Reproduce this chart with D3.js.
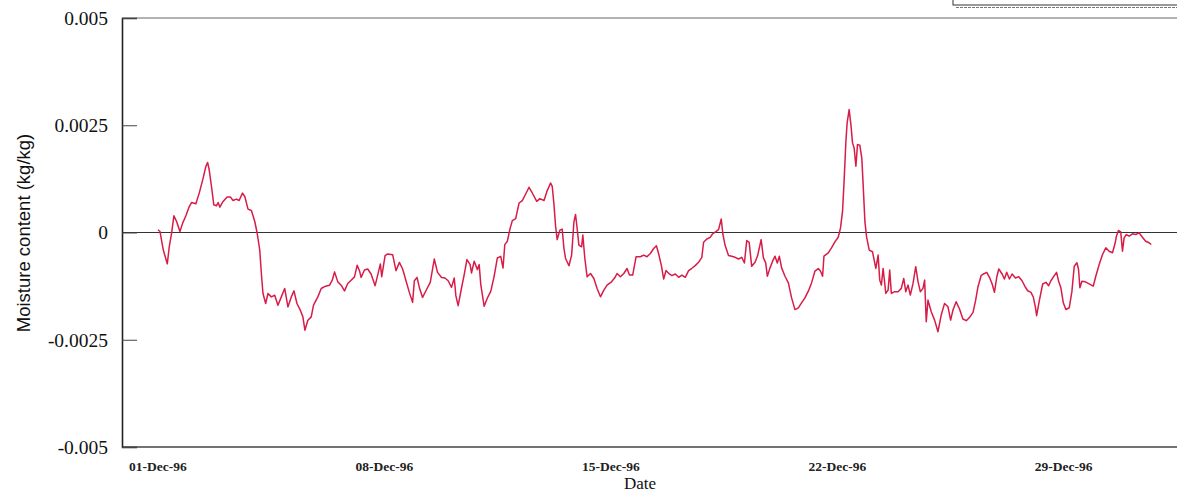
<!DOCTYPE html>
<html>
<head>
<meta charset="utf-8">
<script src="https://cdn.jsdelivr.net/npm/d3@7/dist/d3.min.js"></script>
<style>
  html, body { margin: 0; padding: 0; background: #fff; }
  svg { display: block; }
</style>
</head>
<body>
<svg id="chart" width="1177" height="494"></svg>
<script>
// ---- data: hours since 01-Dec-96 00:00, moisture content (kg/kg) ----
const hours = [
  0,1.5,3.9,6.9,8.4,10.1,11.8,13.8,16.3,18.3,20.7,23.2,24.9,28.1,30.6,33.5,35.5,36.8,38.0,39.7,
  41.4,43.4,44.6,45.9,48.3,51.3,53.8,55.7,58.2,60.2,62.7,64.4,66.8,69.3,71.8,73.5,75.5,76.7,77.9,79.9,
  81.6,84.1,86.6,89.0,91.5,94.0,96.4,98.9,100.9,103.1,105.6,107.5,109.0,111.2,113.7,115.4,118.6,121.1,124.3,127.3,
  129.3,131.0,133.4,135.9,138.4,140.8,143.3,145.8,147.8,149.5,150.7,153.2,155.6,158.1,161.1,163.5,165.0,166.0,168.5,170.4,
  174.1,176.6,179.1,181.5,184.0,186.5,188.9,190.2,192.2,193.9,196.3,198.8,202.0,205.0,207.4,210.4,212.9,215.3,217.8,219.8,
  221.0,222.7,225.2,227.2,229.2,231.6,232.6,234.6,237.0,238.3,239.5,242.0,244.4,246.9,249.4,251.8,254.3,256.0,257.3,259.2,
  261.2,262.9,265.4,267.9,270.3,272.8,275.3,277.7,281.0,283.4,286.4,288.8,291.3,292.5,293.8,295.0,296.2,298.2,299.9,301.2,
  302.4,304.9,306.9,308.6,309.8,311.0,312.3,314.3,315.2,316.7,318.4,320.9,323.4,325.8,328.3,330.8,333.2,336.5,338.9,340.6,
  343.1,345.6,348.0,349.8,352.2,354.7,357.9,360.4,362.8,365.3,367.8,369.8,371.5,373.5,375.2,376.9,379.4,381.3,383.8,386.3,
  388.7,391.2,393.7,396.1,398.6,401.1,403.5,404.8,407.2,409.7,411.4,413.9,415.9,417.9,419.1,420.8,423.3,425.7,428.2,430.7,
  433.1,435.1,436.8,438.6,440.5,443.0,444.9,447.5,449.2,450.9,452.1,454.1,456.0,457.8,459.5,461.0,462.7,465.2,467.7,470.1,
  472.6,475.1,477.5,480.0,482.5,484.9,487.4,489.9,491.6,493.1,494.1,497.3,499.7,502.2,504.7,506.4,507.9,509.1,510.4,511.3,
  512.8,514.1,515.3,516.5,517.8,519.0,520.7,522.2,523.2,524.5,525.7,527.7,530.1,532.6,534.3,535.5,536.7,538.0,540.0,541.7,
  542.9,544.1,546.6,549.1,551.5,553.3,554.8,556.5,558.2,560.2,562.2,563.9,565.6,567.6,568.8,570.0,571.3,573.7,576.2,578.7,
  581.1,583.6,586.1,588.1,589.8,592.2,594.7,597.2,599.7,602.2,604.7,606.6,608.3,610.7,612.5,614.9,616.9,618.9,620.6,622.3,
  623.8,626.3,628.0,629.7,631.7,633.7,636.2,638.6,641.1,643.6,645.3,647.7,649.5,651.0,651.9,653.9,656.4,658.8,660.8,662.5,
  665.0,666.7,668.2,669.9,671.7,673.6,676.1,678.1,679.8,681.8,683.0,684.0,685.5,688.0,690.9,693.9,695.8,698.3,700.8,703.2,
  705.7,708.2,710.2,711.1,712.6,714.3,715.6,716.8,718.5,720.5,723.0,725.4,727.9,730.4,732.8,735.3,737.0
];
const moisture = [
  0.000063,0.000023,-0.000403,-0.000730,-0.000326,-0.000014,0.000389,0.000256,0.000023,0.000219,
  0.000389,0.000606,0.000699,0.000669,0.000918,0.001268,0.001538,0.001632,0.001462,0.001072,
  0.000646,0.000622,0.000699,0.000592,0.000723,0.000825,0.000825,0.000746,0.000779,0.000746,
  0.000918,0.000839,0.000545,0.000513,0.000256,0.000000,-0.000408,-0.000956,-0.001422,-0.001655,
  -0.001422,-0.001501,-0.001462,-0.001695,-0.001501,-0.001305,-0.001734,-0.001501,-0.001361,-0.001655,
  -0.001811,-0.001967,-0.002277,-0.002044,-0.001967,-0.001695,-0.001501,-0.001305,-0.001252,-0.001228,
  -0.001112,-0.000918,-0.001151,-0.001228,-0.001361,-0.001189,-0.001112,-0.001035,-0.000762,-0.000890,
  -0.001047,-0.000874,-0.000851,-0.000967,-0.001240,-0.000930,-0.000734,-0.001030,-0.000541,-0.000501,
  -0.000517,-0.000890,-0.000697,-0.000851,-0.001124,-0.001396,-0.001629,-0.001124,-0.001047,-0.001280,
  -0.001513,-0.001357,-0.001163,-0.000618,-0.000930,-0.001047,-0.001061,-0.001124,-0.001280,-0.001061,
  -0.001473,-0.001706,-0.001294,-0.000981,-0.000632,-0.000748,-0.000944,-0.000671,-0.000865,-0.000748,
  -0.001214,-0.001720,-0.001527,-0.001371,-0.001021,-0.000594,-0.000555,-0.000828,-0.000282,-0.000205,
  0.000091,0.000277,0.000324,0.000688,0.000744,0.000897,0.001054,0.000921,0.000727,0.000790,
  0.000744,0.000977,0.001154,0.001077,0.000650,0.000145,-0.000166,0.000056,0.000079,-0.000373,
  -0.000606,-0.000776,-0.000527,0.000249,0.000420,0.000093,-0.000294,-0.000333,-0.000061,-0.000606,
  -0.001033,-0.000956,-0.001072,-0.001305,-0.001499,-0.001343,-0.001226,-0.001149,-0.001056,-0.000956,
  -0.001033,-0.000956,-0.000839,-0.000993,-0.000993,-0.000566,-0.000566,-0.000527,-0.000566,-0.000490,
  -0.000373,-0.000310,-0.000501,-0.000772,-0.001084,-0.000888,-0.000967,-0.001005,-0.000967,-0.001044,
  -0.000991,-0.001044,-0.000888,-0.000834,-0.000772,-0.000695,-0.000578,-0.000228,-0.000152,-0.000112,
  -0.000035,0.000021,0.000068,0.000315,-0.000035,-0.000305,-0.000538,-0.000555,-0.000578,-0.000618,
  -0.000578,-0.000711,-0.000189,-0.000228,-0.000788,-0.000695,-0.000538,-0.000166,-0.000592,-0.000709,
  -0.001019,-0.000825,-0.000669,-0.000552,-0.000709,-0.000552,-0.000825,-0.001019,-0.001175,-0.001524,
  -0.001797,-0.001758,-0.001641,-0.001524,-0.001368,-0.001175,-0.000902,-0.000841,-0.000902,-0.001019,
  -0.000552,-0.000476,-0.000359,-0.000219,-0.000110,0.000107,0.000497,0.001233,0.002128,0.002555,
  0.002865,0.002515,0.002089,0.001972,0.001545,0.002049,0.002037,0.001727,0.001105,0.000252,
  -0.000098,-0.000410,-0.000448,-0.000837,-0.000527,-0.001110,-0.001226,-0.000837,-0.001420,-0.001343,
  -0.000876,-0.001420,-0.001380,-0.001380,-0.001303,-0.001070,-0.001380,-0.001226,-0.001459,-0.001186,
  -0.000797,-0.001147,-0.001380,-0.001303,-0.001110,-0.002079,-0.001576,-0.001846,-0.002042,-0.002312,
  -0.001925,-0.001653,-0.001730,-0.002042,-0.001809,-0.001613,-0.001783,-0.002016,-0.002056,-0.001977,
  -0.001860,-0.001590,-0.001277,-0.001007,-0.000967,-0.000928,-0.001044,-0.001200,-0.001394,-0.001044,
  -0.000851,-0.000967,-0.001084,-0.000928,-0.001084,-0.000967,-0.001061,-0.001030,-0.001124,-0.001277,
  -0.001357,-0.001394,-0.001510,-0.001744,-0.001939,-0.001590,-0.001200,-0.001161,-0.001240,-0.001124,
  -0.001007,-0.000928,-0.001135,-0.001289,-0.001639,-0.001795,-0.001755,-0.001368,-0.000786,-0.000706,
  -0.000862,-0.001289,-0.001135,-0.001149,-0.001196,-0.001252,-0.001019,-0.000746,-0.000513,-0.000357,
  -0.000436,-0.000473,-0.000240,-0.000086,0.000047,0.000016,-0.000436,-0.000124,-0.000047,-0.000086,
  -0.000030,-0.000047,-0.000007,-0.000110,-0.000203,-0.000240,-0.000280
];
const yTicks = [0.005, 0.0025, 0, -0.0025, -0.005];
const yTickLabels = ["0.005", "0.0025", "0", "-0.0025", "-0.005"];
const xTickDates = ["1996-12-01", "1996-12-08", "1996-12-15", "1996-12-22", "1996-12-29"];
const xTitle = "Date";
const yTitle = "Moisture content (kg/kg)";

(function () {
  const start = new Date(1996, 11, 1, 0, 0);
  const svg = d3.select("#chart");
  const mLeft = 122, mRight = 1195, mTop = 18, mBottom = 447;
  const serif = "'Liberation Serif', 'Times New Roman', Times, serif";

  const x = d3.scaleTime()
    .domain([d3.timeMinute.offset(start, -26.7 * 60), d3.timeMinute.offset(start, 769.4 * 60)])
    .range([mLeft, mRight]);
  const y = d3.scaleLinear().domain([-0.005, 0.005]).range([mBottom, mTop]);

  const data = hours.map((h, i) => ({ t: d3.timeMinute.offset(start, Math.round(h * 60)), v: moisture[i] }));

  // frame lines
  svg.append("line").attr("x1", mLeft).attr("x2", 1177).attr("y1", y(0.005)).attr("y2", y(0.005))
    .attr("stroke", "#666").attr("stroke-width", 1);
  svg.append("line").attr("x1", mLeft).attr("x2", 1177).attr("y1", y(-0.005)).attr("y2", y(-0.005))
    .attr("stroke", "#444").attr("stroke-width", 1.3);
  svg.append("line").attr("x1", mLeft).attr("x2", 1177).attr("y1", y(0)).attr("y2", y(0))
    .attr("stroke", "#333").attr("stroke-width", 1.1);

  // y axis
  const yAxis = d3.axisRight(y).tickValues(yTicks).tickSize(15).tickFormat("");
  const gy = svg.append("g").attr("transform", `translate(${mLeft},0)`).call(yAxis);
  gy.select(".domain").attr("stroke", "#222").attr("stroke-width", 1.6);
  gy.selectAll(".tick line").attr("stroke", "#444").attr("stroke-width", 1);

  svg.append("g").selectAll("text").data(yTicks).join("text")
    .attr("x", 108).attr("y", d => y(d)).attr("dy", "0.35em")
    .attr("text-anchor", "end")
    .style("font-family", serif)
    .attr("font-size", 19.5).attr("fill", "#111")
    .text((d, i) => yTickLabels[i]);

  // x tick labels
  const fmt = d3.timeFormat("%d-%b-%y");
  const parse = d3.timeParse("%Y-%m-%d");
  svg.append("g").selectAll("text").data(xTickDates).join("text")
    .attr("x", d => x(parse(d)))
    .attr("y", 471)
    .attr("text-anchor", "middle")
    .style("font-family", serif)
    .attr("font-size", 13.5).attr("font-weight", "bold").attr("fill", "#222")
    .text(d => fmt(parse(d)));

  // titles
  svg.append("text").attr("x", 640).attr("y", 489).attr("text-anchor", "middle")
    .style("font-family", serif)
    .attr("font-size", 17).attr("fill", "#111").text(xTitle);
  svg.append("text").attr("transform", "translate(30,233) rotate(-90)").attr("text-anchor", "middle")
    .style("font-family", "'Liberation Sans', Arial, sans-serif")
    .attr("font-size", 18.5).attr("fill", "#111").text(yTitle);

  // legend box (clipped at top)
  svg.append("rect").attr("x", 953).attr("y", -12).attr("width", 260).attr("height", 17)
    .attr("fill", "none").attr("stroke", "#333").attr("stroke-width", 1);
  svg.append("line").attr("x1", 956).attr("x2", 1177).attr("y1", 7.5).attr("y2", 7.5)
    .attr("stroke", "#777").attr("stroke-width", 1).attr("stroke-dasharray", "3,1");

  // series line
  const line = d3.line().x(d => x(d.t)).y(d => y(d.v));
  svg.append("path").datum(data).attr("d", line)
    .attr("fill", "none").attr("stroke", "#d81c48").attr("stroke-width", 1.5)
    .attr("stroke-linejoin", "round");
})();
</script>
</body>
</html>
